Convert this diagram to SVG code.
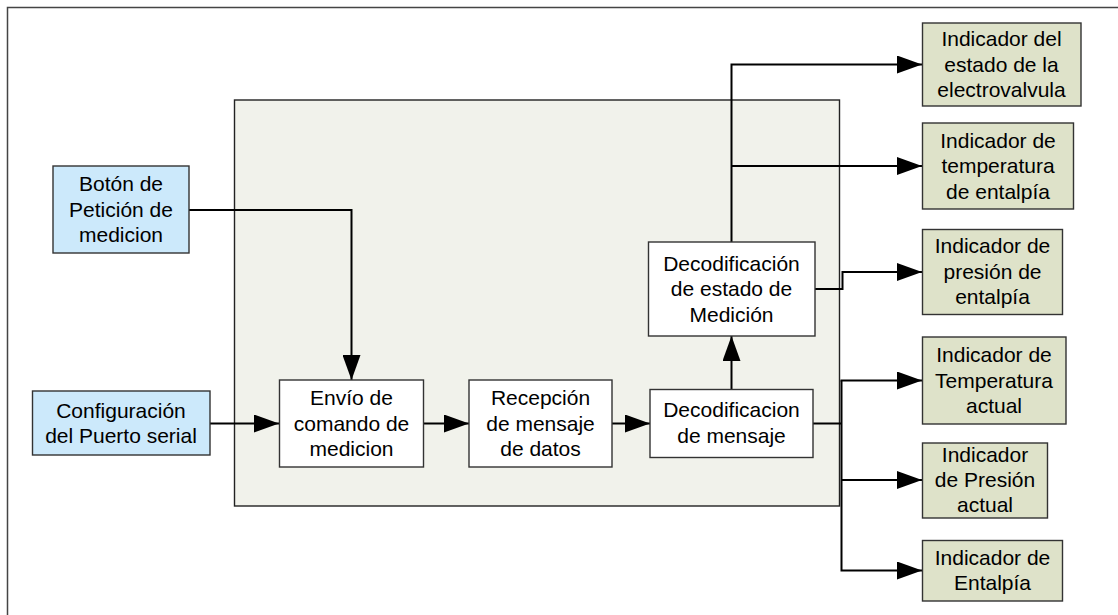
<svg xmlns="http://www.w3.org/2000/svg" width="1118" height="615" viewBox="0 0 1118 615">
<style>
text{font-family:"Liberation Sans",Arial,sans-serif;font-size:21px;fill:#000;text-anchor:middle}
.box{stroke:#333;stroke-width:1.4}
.blue{fill:#cce9fb}
.white{fill:#fff}
.green{fill:#dee2c9}
.con{fill:none;stroke:#000;stroke-width:2}
</style>
<defs>
<marker id="ah" markerUnits="userSpaceOnUse" markerWidth="26" markerHeight="18" refX="25" refY="9" orient="auto">
<path d="M0,0 L25,9 L0,18 Z" fill="#000"/>
</marker>
</defs>
<rect x="0" y="0" width="1118" height="615" fill="#fff"/>
<path d="M7.5,615 V7.5 H1118" fill="none" stroke="#444" stroke-width="1.5"/>
<rect id="panel" x="234.5" y="100" width="605" height="406" fill="#f1f2eb" stroke="#222" stroke-width="1.4"/>
<g id="connectors">
<path class="con" d="M189,210 H351.5 V380" marker-end="url(#ah)"/>
<path class="con" d="M210,423.5 H279" marker-end="url(#ah)"/>
<path class="con" d="M423,423.5 H469" marker-end="url(#ah)"/>
<path class="con" d="M612,423.5 H650" marker-end="url(#ah)"/>
<path class="con" d="M731.5,389 V336" marker-end="url(#ah)"/>
<path class="con" d="M731.5,242 V64.5 H922" marker-end="url(#ah)"/>
<path class="con" d="M731.5,166 H922" marker-end="url(#ah)"/>
<path class="con" d="M815,289 H842.5 V272 H922" marker-end="url(#ah)"/>
<path class="con" d="M813,423.5 H841.5"/>
<path class="con" d="M841.5,380.5 V570.5 H922" marker-end="url(#ah)"/>
<path class="con" d="M840.5,380.5 H922" marker-end="url(#ah)"/>
<path class="con" d="M841.5,480 H922" marker-end="url(#ah)"/>
</g>
<g id="boton">
<rect class="box blue" x="53" y="166" width="136" height="87"/>
<text x="121" y="191">Botón de</text>
<text x="121" y="216.5">Petición de</text>
<text x="121" y="242">medicion</text>
</g>
<g id="config">
<rect class="box blue" x="32.5" y="391" width="177.5" height="64"/>
<text x="121" y="417.5">Configuración</text>
<text x="121" y="443">del Puerto serial</text>
</g>
<g id="envio">
<rect class="box white" x="279.5" y="380" width="144" height="87"/>
<text x="351.5" y="405">Envío de</text>
<text x="351.5" y="430.5">comando de</text>
<text x="351.5" y="456">medicion</text>
</g>
<g id="recepcion">
<rect class="box white" x="469" y="380" width="143" height="87"/>
<text x="540.5" y="405">Recepción</text>
<text x="540.5" y="430.5">de mensaje</text>
<text x="540.5" y="456">de datos</text>
</g>
<g id="decmensaje">
<rect class="box white" x="650" y="389.5" width="163" height="68"/>
<text x="731.5" y="417">Decodificacion</text>
<text x="731.5" y="443">de mensaje</text>
</g>
<g id="decestado">
<rect class="box white" x="648.5" y="242" width="166.5" height="94"/>
<text x="731.5" y="270.5">Decodificación</text>
<text x="731.5" y="296">de estado de</text>
<text x="731.5" y="321.5">Medición</text>
</g>
<g id="ind1">
<rect class="box green" x="922.5" y="23" width="158.5" height="83"/>
<text x="1001.5" y="46">Indicador del</text>
<text x="1001.5" y="71.5">estado de la</text>
<text x="1001.5" y="97">electrovalvula</text>
</g>
<g id="ind2">
<rect class="box green" x="922.5" y="123" width="151" height="86"/>
<text x="998" y="147.5">Indicador de</text>
<text x="998" y="173">temperatura</text>
<text x="998" y="198.5">de entalpía</text>
</g>
<g id="ind3">
<rect class="box green" x="922.5" y="229.5" width="140" height="85"/>
<text x="992.5" y="253">Indicador de</text>
<text x="992.5" y="278.5">presión de</text>
<text x="992.5" y="304">entalpía</text>
</g>
<g id="ind4">
<rect class="box green" x="922.5" y="337" width="143.5" height="87"/>
<text x="994" y="362">Indicador de</text>
<text x="994" y="387.5">Temperatura</text>
<text x="994" y="413">actual</text>
</g>
<g id="ind5">
<rect class="box green" x="922.5" y="443" width="125" height="75"/>
<text x="985" y="461.5">Indicador</text>
<text x="985" y="487">de Presión</text>
<text x="985" y="512">actual</text>
</g>
<g id="ind6">
<rect class="box green" x="922.5" y="540.5" width="140" height="60.5"/>
<text x="992.5" y="564.5">Indicador de</text>
<text x="992.5" y="590">Entalpía</text>
</g>
</svg>
